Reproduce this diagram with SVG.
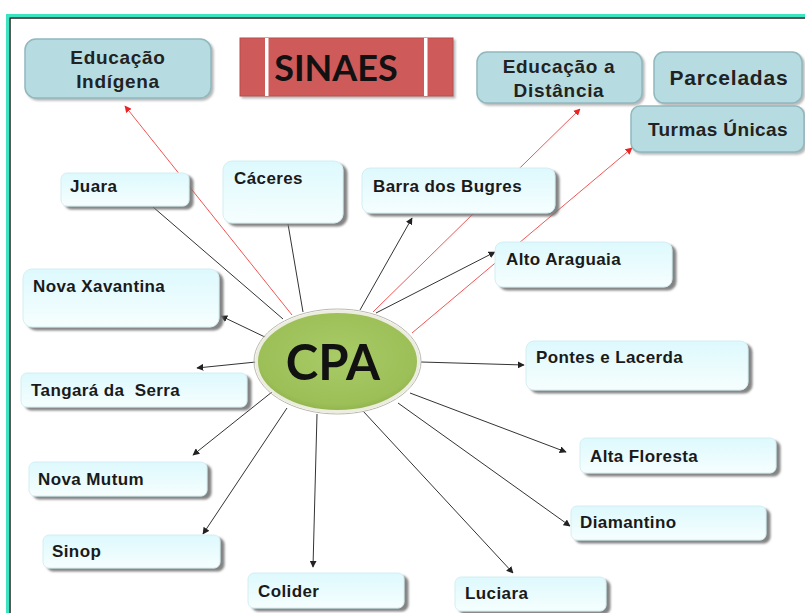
<svg xmlns="http://www.w3.org/2000/svg" width="805" height="613" viewBox="0 0 805 613">
<defs>
<linearGradient id="gCity" x1="0" y1="0" x2="0" y2="1">
<stop offset="0" stop-color="#ddf9fd"/>
<stop offset="1" stop-color="#f6fefe"/>
</linearGradient>
<radialGradient id="gCpa" cx="0.5" cy="0.45" r="0.6">
<stop offset="0" stop-color="#a8cb66"/>
<stop offset="0.8" stop-color="#9cbf58"/>
<stop offset="1" stop-color="#88aa44"/>
</radialGradient>
<filter id="sh" x="-10%" y="-10%" width="130%" height="140%">
<feDropShadow dx="4" dy="3" stdDeviation="1.2" flood-color="#777" flood-opacity="0.9"/>
</filter>
<filter id="sh2" x="-10%" y="-10%" width="130%" height="140%">
<feDropShadow dx="2" dy="2" stdDeviation="1" flood-color="#888" flood-opacity="0.6"/>
</filter>
<marker id="ab" viewBox="0 0 10 10" refX="9" refY="5" markerWidth="7" markerHeight="7" orient="auto" markerUnits="userSpaceOnUse">
<path d="M0,0 L10,5 L0,10 z" fill="#222"/>
</marker>
<marker id="ar" viewBox="0 0 10 10" refX="9" refY="5" markerWidth="7" markerHeight="7" orient="auto" markerUnits="userSpaceOnUse">
<path d="M0,0 L10,5 L0,10 z" fill="#e22"/>
</marker>
<style>
.city rect{fill:url(#gCity);stroke:#d4eef2;stroke-width:1;filter:url(#sh)}
.city text{font-family:"Liberation Sans",Arial,sans-serif;font-weight:bold;font-size:17px;letter-spacing:0.4px;fill:#1a1a1a}
.top rect{fill:#b6dce1;stroke:#90b8be;stroke-width:1.5;filter:url(#sh2)}
.top text{font-family:"Liberation Sans",Arial,sans-serif;font-weight:bold;font-size:19px;letter-spacing:0.7px;fill:#222;text-anchor:middle}
.bl{stroke:#333;stroke-width:1;fill:none}
.rd{stroke:#f25555;stroke-width:1;fill:none}
</style>
</defs>
<rect x="0" y="0" width="805" height="613" fill="#ffffff"/>
<rect x="7.5" y="15.5" width="820" height="620" fill="none" stroke="#3ee3c0" stroke-width="3"/>
<rect x="10" y="18" width="815" height="615" fill="none" stroke="#222" stroke-width="1.5"/>

<g id="connectors">
<line class="rd" x1="292" y1="315" x2="125" y2="106" marker-end="url(#ar)"/>
<line class="rd" x1="373" y1="312" x2="580" y2="109" marker-end="url(#ar)"/>
<line class="rd" x1="412" y1="333" x2="632" y2="148" marker-end="url(#ar)"/>
<line class="bl" x1="153" y1="207" x2="283" y2="319"/>
<line class="bl" x1="288" y1="224" x2="303" y2="312"/>
<line class="bl" x1="360" y1="310" x2="412" y2="218" marker-end="url(#ab)"/>
<line class="bl" x1="376" y1="313" x2="495" y2="252" marker-end="url(#ab)"/>
<line class="bl" x1="421" y1="362" x2="524" y2="365" marker-end="url(#ab)"/>
<line class="bl" x1="410" y1="393" x2="566" y2="452" marker-end="url(#ab)"/>
<line class="bl" x1="398" y1="403" x2="570" y2="526" marker-end="url(#ab)"/>
<line class="bl" x1="363" y1="411" x2="513" y2="573" marker-end="url(#ab)"/>
<line class="bl" x1="317" y1="414" x2="313" y2="567" marker-end="url(#ab)"/>
<line class="bl" x1="287" y1="408" x2="203" y2="534" marker-end="url(#ab)"/>
<line class="bl" x1="272" y1="392" x2="193" y2="455" marker-end="url(#ab)"/>
<line class="bl" x1="256" y1="362" x2="197" y2="368" marker-end="url(#ab)"/>
<line class="bl" x1="267" y1="338" x2="221" y2="316" marker-end="url(#ab)"/>
</g>

<g id="sinaes">
<rect x="240" y="38" width="213" height="58" fill="#cf5a5a" stroke="#b84a4a" stroke-width="1" filter="url(#sh2)"/>
<rect x="265" y="38" width="3.5" height="58" fill="#ffffff"/>
<rect x="424" y="38" width="3.5" height="58" fill="#ffffff"/>
<text x="336" y="81" text-anchor="middle" font-family="Lato,'Open Sans',sans-serif" font-weight="bold" font-size="36" fill="#111">SINAES</text>
</g>

<g id="edu-indigena" class="top">
<rect x="25" y="39" width="186" height="59" rx="11"/>
<text x="118" y="64">Educação</text>
<text x="118" y="88">Indígena</text>
</g>
<g id="edu-distancia" class="top">
<rect x="477" y="52" width="165" height="51" rx="10"/>
<text x="559" y="73">Educação a</text>
<text x="559" y="97">Distância</text>
</g>
<g id="parceladas" class="top">
<rect x="654" y="52" width="148" height="51" rx="10"/>
<text x="729" y="85" style="font-size:21px;letter-spacing:0.8px">Parceladas</text>
</g>
<g id="turmas" class="top">
<rect x="631" y="106" width="173" height="46" rx="9"/>
<text x="718" y="136" style="font-size:19px;letter-spacing:0.4px">Turmas Únicas</text>
</g>

<g id="juara" class="city"><rect x="61" y="173" width="128" height="33" rx="6"/><text x="70" y="192">Juara</text></g>
<g id="caceres" class="city"><rect x="223" y="161" width="120" height="62" rx="9"/><text x="234" y="184">Cáceres</text></g>
<g id="barra" class="city"><rect x="362" y="168" width="193" height="45" rx="8"/><text x="373" y="192">Barra dos Bugres</text></g>
<g id="alto-araguaia" class="city"><rect x="495" y="242" width="177" height="45" rx="8"/><text x="506" y="265">Alto Araguaia</text></g>
<g id="pontes" class="city"><rect x="526" y="341" width="222" height="49" rx="8"/><text x="536" y="363">Pontes e Lacerda</text></g>
<g id="nova-xavantina" class="city"><rect x="23" y="269" width="196" height="58" rx="9"/><text x="33" y="292">Nova Xavantina</text></g>
<g id="tangara" class="city"><rect x="21" y="373" width="226" height="34" rx="6"/><text x="31" y="396" xml:space="preserve">Tangará da  Serra</text></g>
<g id="nova-mutum" class="city"><rect x="29" y="462" width="178" height="34" rx="6"/><text x="38" y="485">Nova Mutum</text></g>
<g id="sinop" class="city"><rect x="43" y="535" width="177" height="33" rx="6"/><text x="52" y="557">Sinop</text></g>
<g id="colider" class="city"><rect x="248" y="573" width="156" height="35" rx="6"/><text x="258" y="597">Colider</text></g>
<g id="luciara" class="city"><rect x="455" y="577" width="151" height="34" rx="6"/><text x="465" y="599">Luciara</text></g>
<g id="alta-floresta" class="city"><rect x="580" y="438" width="196" height="35" rx="6"/><text x="590" y="462">Alta Floresta</text></g>
<g id="diamantino" class="city"><rect x="571" y="506" width="195" height="34" rx="6"/><text x="580" y="528">Diamantino</text></g>

<g id="cpa">
<ellipse cx="337.5" cy="361.5" rx="83.5" ry="52.5" fill="none" stroke="#b8b8b0" stroke-width="1"/>
<ellipse cx="337.5" cy="361.5" rx="81" ry="50" fill="url(#gCpa)" stroke="#ececdf" stroke-width="3"/>
<text x="333" y="380" text-anchor="middle" font-family="Lato,'Open Sans',sans-serif" font-weight="bold" font-size="49" fill="#111">CPA</text>
</g>
</svg>
